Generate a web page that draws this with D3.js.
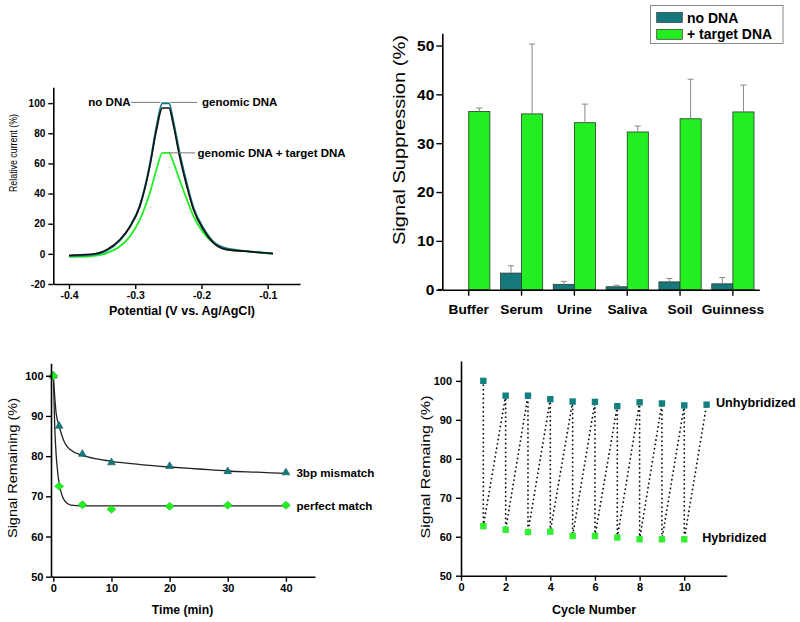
<!DOCTYPE html>
<html><head><meta charset="utf-8">
<script src="https://cdn.jsdelivr.net/npm/d3@7"></script>
<style>
body{margin:0;background:#fff;}
svg{display:block;font-family:"Liberation Sans",Arial,Helvetica,sans-serif;}
</style></head><body>
<svg id="c" width="800" height="622"></svg>
<script>
// ---------- Panel A: voltammograms ----------
const potential = [-0.400,-0.368,-0.343,-0.323,-0.308,-0.293,-0.278,-0.268,-0.259,-0.249,-0.243,-0.233,-0.222,-0.212,-0.197,-0.182,-0.162,-0.132,-0.092];
const noDNA =        [-0.9,-0.3,2.8,9.5,18,31.5,58,82,96.8,96.8,86.7,64.6,44.7,29.3,16,7.3,2.8,1.7,0.2];
const genomicDNA =   [-1.5,-0.8,2.2,9,18,32,59,84,100,100,89,67,46.5,30.5,17,8,3.5,1.8,0.3];
const genomicTarget =[-2,-1.7,0.5,5,11.6,22.7,40.4,55.8,67,67,61.3,49,36,24.9,13.9,7.3,2.8,1.7,0];
const potentialTicks = [-0.4,-0.3,-0.2,-0.1];
const currentTicks = [-20,0,20,40,60,80,100];

// ---------- Panel B: signal suppression ----------
const samples = ["Buffer","Serum","Urine","Saliva","Soil","Guinness"];
const seriesNames = ["no DNA","+ target DNA"];
const suppressionNoDNA = [0,3.4,1.1,0.6,1.6,1.2];
const suppressionNoDNAErr = [0,1.5,0.6,0.3,0.7,1.3];
const suppressionTarget = [36.5,36.0,34.2,32.3,35.0,36.4];
const suppressionTargetErr = [0.7,14.3,3.8,1.2,8.1,5.5];
const suppressionTicks = [0,10,20,30,40,50];

// ---------- Panel C: kinetics ----------
const timeMin = [0,1,5,10,20,30,40];
const mismatch = [100,87.5,80.5,78.4,77.5,76.2,75.9];
const perfect = [100,72.5,67.9,66.8,67.5,67.8,67.8];
const mismatchFitT = [0,0.5,1,1.5,2,3,5,7.5,10,15,20,25,30,35,40];
const mismatchFit  = [100,90.5,87.5,85,83.2,81.5,80.2,79.3,78.7,77.9,77.3,76.8,76.3,76,75.7];
const perfectFitT = [0,0.25,0.5,0.75,1,1.5,2,3,5,10,20,30,40];
const perfectFit  = [100,87,80,76,73.2,70.2,68.8,67.8,67.6,67.6,67.6,67.6,67.6];
const timeTicks = [0,10,20,30,40];
const remainingTicks = [50,60,70,80,90,100];

// ---------- Panel D: regeneration cycles ----------
const cycleUnhyb = [1,2,3,4,5,6,7,8,9,10,11];
const unhybridized = [100,96.2,96.2,95.3,94.7,94.6,93.5,94.5,94.2,93.7,93.9];
const cycleHyb = [1,2,3,4,5,6,7,8,9,10];
const hybridized = [62.7,61.8,61.2,61.3,60.2,60.2,59.8,59.35,59.35,59.35];
const cycleTicks = [0,2,4,6,8,10];

const TEAL = "#15787c", GREEN = "#22ee22";
const svg = d3.select("#c");

function styleAxis(g, fs){
  g.attr("font-family",null).attr("font-size",null);
  g.selectAll(".domain").attr("stroke","#000").attr("stroke-width",1.6);
  g.selectAll(".tick line").attr("stroke","#000").attr("stroke-width",1.4);
  g.selectAll(".tick text").attr("font-size",fs).attr("font-weight","bold").attr("fill","#000");
}
function vTitle(x,y,txt,fs,len,weight){
  svg.append("text").attr("transform",`translate(${x},${y}) rotate(-90)`)
    .attr("text-anchor","middle").attr("dominant-baseline","central")
    .attr("font-size",fs).attr("font-weight",weight||"normal")
    .attr("textLength",len).attr("lengthAdjust","spacingAndGlyphs").text(txt);
}
function hTitle(x,y,txt,fs,weight){
  svg.append("text").attr("x",x).attr("y",y).attr("text-anchor","middle")
    .attr("dominant-baseline","central").attr("font-size",fs)
    .attr("font-weight",weight||"bold").text(txt);
}

// ================= Panel A =================
{
  const x = d3.scaleLinear().domain([-0.4237,-0.0512]).range([53.3,300]);
  const y = d3.scaleLinear().domain([-20,110.5]).range([284,87.3]);
  const line = arr => d3.line().x((d,i)=>x(potential[i])).y(d=>y(d)).curve(d3.curveMonotoneX)(arr);
  svg.append("path").attr("d",line(genomicTarget)).attr("fill","none").attr("stroke",GREEN).attr("stroke-width",1.8);
  svg.append("path").attr("d",line(genomicDNA)).attr("fill","none").attr("stroke",TEAL).attr("stroke-width",2);
  svg.append("path").attr("d",line(noDNA)).attr("fill","none").attr("stroke","#111").attr("stroke-width",1.6);

  const ga = svg.append("g").attr("transform","translate(53.3,0)")
    .call(d3.axisLeft(y).tickValues(currentTicks).tickSize(5).tickSizeOuter(0).tickPadding(3).tickFormat(d=>String(d)));
  styleAxis(ga,"10px");
  const gb = svg.append("g").attr("transform","translate(0,284)")
    .call(d3.axisBottom(x).tickValues(potentialTicks).tickSize(5).tickSizeOuter(0).tickPadding(3).tickFormat(d=>d.toFixed(1)));
  styleAxis(gb,"10.5px");

  // annotations
  const lab = (tx,ty,txt,anchor)=>svg.append("text").attr("x",tx).attr("y",ty).attr("text-anchor",anchor)
     .attr("dominant-baseline","central").attr("font-size","11.5px").attr("font-weight","bold").text(txt);
  const lead = (x1,x2,yy)=>svg.append("line").attr("x1",x1).attr("x2",x2).attr("y1",yy).attr("y2",yy).attr("stroke","#777").attr("stroke-width",1);
  lead(131,x(-0.262),y(100.5)); lab(130.5,y(100.5),"no DNA","end");
  lead(x(-0.247),197,y(100.5)); lab(202,y(100.5),"genomic DNA","start");
  lead(x(-0.249),195,y(67)); lab(197.5,y(67),"genomic DNA + target DNA","start");

  hTitle(182,311,"Potential (V vs. Ag/AgCl)","12.5px");
  vTitle(13,153,"Relative current (%)","10.5px",78);
}

// ================= Panel B =================
{
  const x0 = d3.scaleBand().domain(samples).range([442.3,759.3]).paddingInner(0.2).paddingOuter(0.1);
  const x1 = d3.scaleBand().domain(seriesNames).range([0,x0.bandwidth()]);
  const y = d3.scaleLinear().domain([0,52.5]).range([289.7,33.3]);
  const series = [
    {name:seriesNames[0], vals:suppressionNoDNA, err:suppressionNoDNAErr, color:TEAL},
    {name:seriesNames[1], vals:suppressionTarget, err:suppressionTargetErr, color:GREEN}
  ];
  series.forEach(s=>{
    const g = svg.append("g");
    samples.forEach((c,i)=>{
      const v = s.vals[i]; if(!v) return;
      const bx = x0(c)+x1(s.name), bw = x1.bandwidth();
      g.append("rect").attr("x",bx).attr("y",y(v)).attr("width",bw).attr("height",y(0)-y(v))
        .attr("fill",s.color).attr("stroke","#2a3a2a").attr("stroke-width",0.8);
      const cx = bx+bw/2;
      if(s.err[i]>0){
        g.append("line").attr("x1",cx).attr("x2",cx).attr("y1",y(v)).attr("y2",y(v+s.err[i])).attr("stroke","#888").attr("stroke-width",1);
        g.append("line").attr("x1",cx-3).attr("x2",cx+3).attr("y1",y(v+s.err[i])).attr("y2",y(v+s.err[i])).attr("stroke","#888").attr("stroke-width",1);
      }
    });
  });
  const ga = svg.append("g").attr("transform","translate(442.3,0)")
    .call(d3.axisLeft(y).tickValues(suppressionTicks).tickSize(6).tickSizeOuter(0).tickPadding(2).tickFormat(d=>String(d)));
  styleAxis(ga,"15.5px");
  const gb = svg.append("g").attr("transform","translate(0,289.7)")
    .call(d3.axisBottom(x0).tickSize(6).tickSizeOuter(0).tickPadding(9));
  styleAxis(gb,"13.7px");
  // small left overhang of the baseline, as in the original
  svg.append("line").attr("x1",438).attr("x2",442.3).attr("y1",289.7).attr("y2",289.7).attr("stroke","#000").attr("stroke-width",1.6);

  // legend
  const lg = svg.append("g");
  lg.append("rect").attr("x",650.5).attr("y",5.5).attr("width",132.5).attr("height",38).attr("fill","#fff").attr("stroke","#888").attr("stroke-width",1);
  series.forEach((s,i)=>{
    const yy = 17.5 + i*16.8;
    lg.append("rect").attr("x",656.7).attr("y",yy-5).attr("width",25.6).attr("height",10).attr("fill",s.color).attr("stroke","#333").attr("stroke-width",0.7);
    lg.append("text").attr("x",687).attr("y",yy).attr("dominant-baseline","central").attr("font-size","14px").attr("font-weight","bold").text(s.name);
  });
  vTitle(399,140,"Signal Suppression (%)","16px",210);
}

// ================= Panel C =================
{
  const x = d3.scaleLinear().domain([-0.4,45]).range([51,315]);
  const y = d3.scaleLinear().domain([50,103.1]).range([576.7,363.3]);
  const ln = d3.line().x(d=>x(d[0])).y(d=>y(d[1])).curve(d3.curveMonotoneX);
  svg.append("path").attr("d",ln(mismatchFitT.map((t,i)=>[t,mismatchFit[i]]))).attr("fill","none").attr("stroke","#222").attr("stroke-width",1.3);
  svg.append("path").attr("d",ln(perfectFitT.map((t,i)=>[t,perfectFit[i]]))).attr("fill","none").attr("stroke","#222").attr("stroke-width",1.3);
  const tri = d3.symbol().type(d3.symbolTriangle).size(26)();
  timeMin.forEach((t,i)=>{
    svg.append("path").attr("d",tri).attr("transform",`translate(${x(t)},${y(mismatch[i])})`).attr("fill",TEAL).attr("stroke","#0c5a5c").attr("stroke-width",0.6);
  });
  const diamond = "M0,-4L4.5,0L0,4L-4.5,0Z";
  timeMin.forEach((t,i)=>{
    svg.append("path").attr("d",diamond).attr("transform",`translate(${x(t)},${y(perfect[i])})`).attr("fill",GREEN).attr("stroke","#1cc41c").attr("stroke-width",0.6);
  });
  const ga = svg.append("g").attr("transform","translate(51,0)")
    .call(d3.axisLeft(y).tickValues(remainingTicks).tickSize(5).tickSizeOuter(0).tickPadding(2.5).tickFormat(d=>String(d)));
  styleAxis(ga,"11px");
  const gb = svg.append("g").attr("transform","translate(0,576.7)")
    .call(d3.axisBottom(x).tickValues(timeTicks).tickSize(5).tickSizeOuter(0).tickPadding(2.5).tickFormat(d=>String(d)));
  styleAxis(gb,"11px");
  const lab = (tx,ty,txt)=>svg.append("text").attr("x",tx).attr("y",ty).attr("dominant-baseline","central").attr("font-size","11.6px").attr("font-weight","bold").text(txt);
  lab(x(41.8),y(76),"3bp mismatch");
  lab(x(41.8),y(67.6),"perfect match");
  hTitle(182.5,610,"Time (min)","12.2px");
  vTitle(12,468,"Signal Remaining (%)","13px",140);
}

// ================= Panel D =================
{
  const x = d3.scaleLinear().domain([0,11.9]).range([461,726.7]);
  const y = d3.scaleLinear().domain([50,105.1]).range([575.7,361]);
  const seq = [];
  cycleHyb.forEach((c,i)=>{ seq.push([cycleUnhyb[i],unhybridized[i]]); seq.push([c,hybridized[i]]); });
  seq.push([cycleUnhyb[10],unhybridized[10]]);
  svg.append("path").attr("d",d3.line().x(d=>x(d[0])).y(d=>y(d[1]))(seq))
    .attr("fill","none").attr("stroke","#111").attr("stroke-width",1.8)
    .attr("stroke-dasharray","0.1,4.3").attr("stroke-linecap","round");
  cycleUnhyb.forEach((c,i)=>{
    svg.append("rect").attr("x",x(c)-3.2).attr("y",y(unhybridized[i])-3.2).attr("width",6.4).attr("height",6.4).attr("fill","#138080");
  });
  cycleHyb.forEach((c,i)=>{
    svg.append("rect").attr("x",x(c)-3.2).attr("y",y(hybridized[i])-3.2).attr("width",6.4).attr("height",6.4).attr("fill","#33ee33");
  });
  const ga = svg.append("g").attr("transform","translate(461,0)")
    .call(d3.axisLeft(y).tickValues(remainingTicks).tickSize(5).tickSizeOuter(0).tickPadding(4).tickFormat(d=>String(d)));
  styleAxis(ga,"11px");
  const gb = svg.append("g").attr("transform","translate(0,575.7)")
    .call(d3.axisBottom(x).tickValues(cycleTicks).tickSize(5).tickSizeOuter(0).tickPadding(3).tickFormat(d=>String(d)));
  styleAxis(gb,"11px");
  const lab = (tx,ty,txt)=>svg.append("text").attr("x",tx).attr("y",ty).attr("dominant-baseline","central").attr("font-size","12.6px").attr("font-weight","bold").text(txt);
  lab(x(11.42),y(94.2),"Unhybridized");
  lab(x(10.8),y(59.8),"Hybridized");
  hTitle(594,610,"Cycle Number","12.5px");
  vTitle(425,467,"Signal Remaing (%)","13px",143);
}
</script>
</body></html>
